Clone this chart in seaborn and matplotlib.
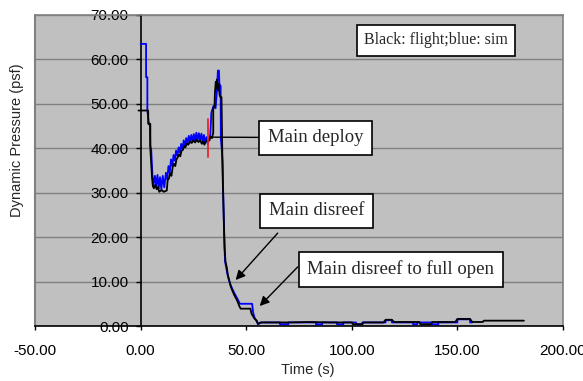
import matplotlib
matplotlib.use("Agg")
import matplotlib.pyplot as plt
import pandas as pd
import seaborn as sns
from matplotlib.ticker import FormatStrFormatter

# Flight-measured dynamic pressure (black trace)
flight_time = [-1.0, 3.6, 3.6, 4.6, 4.6, 5.4, 5.8, 6.3, 7.0, 7.6, 8.2, 8.8, 10.0, 11.0,
               12.4, 12.8, 13.4, 14.0, 14.6, 15.2, 15.8, 16.4, 17.0, 17.6, 18.2, 18.8,
               19.4, 20.0, 20.6, 21.2, 21.8, 22.6, 23.4, 24.2, 25.0, 25.8, 26.6, 27.4,
               28.2, 29.0, 29.6, 30.2, 30.8, 31.4, 32.0, 32.6, 33.2, 33.8, 34.4, 34.4,
               35.0, 35.2, 35.6, 35.9, 36.2, 36.6, 37.0, 37.4, 37.8, 38.3, 38.5, 38.7,
               38.9, 39.2, 39.5, 39.8, 40.2, 40.8, 41.3, 41.9, 42.6, 43.4, 44.3, 45.2,
               46.0, 46.8, 47.4, 52.0, 52.5, 53.7, 55.0, 55.6, 57.0, 70.0, 80.0, 90.0,
               100.0, 100.5, 105.0, 105.5, 115.0, 116.0, 119.0, 120.0, 132.0, 132.5,
               137.5, 138.0, 149.0, 150.0, 156.0, 157.0, 162.0, 162.5, 181.5]
flight_q = [48.5, 48.5, 45.5, 45.5, 40.0, 33.5, 31.5, 31.0, 31.8, 30.8, 31.3, 30.2, 30.6, 30.2,
            30.5, 32.8, 33.2, 34.4, 33.8, 35.8, 36.5, 36.0, 37.5, 38.0, 38.6, 38.2,
            39.5, 39.6, 40.5, 40.2, 41.0, 40.8, 41.5, 41.2, 41.8, 41.3, 41.9, 41.4,
            41.8, 41.0, 41.6, 40.8, 41.5, 41.6, 42.2, 41.8, 42.6, 42.3, 43.5, 49.0,
            49.5, 52.5, 55.0, 53.5, 55.5, 53.0, 54.5, 52.0, 51.5, 51.5, 45.0, 38.0,
            33.0, 27.5, 22.0, 17.5, 14.5, 13.2, 11.5, 10.4, 9.0, 8.0, 7.0, 6.2,
            5.4, 4.4, 3.9, 3.9, 2.8, 1.8, 1.2, 0.5, 0.8, 0.8, 0.9, 0.8,
            0.8, 0.4, 0.4, 0.8, 0.8, 1.4, 1.4, 0.9, 0.9, 0.4,
            0.4, 0.9, 0.9, 1.6, 1.6, 0.9, 0.9, 1.2, 1.2]

# Simulated dynamic pressure (blue trace)
sim_time = [0.0, 2.6, 2.6, 3.2, 3.2, 3.8, 4.4, 4.6, 5.0, 5.6, 6.0, 6.8, 7.4, 8.0, 8.6,
            9.2, 9.8, 10.5, 11.2, 12.0, 12.6, 13.2, 13.8, 14.4, 15.0, 15.6, 16.2,
            16.8, 17.4, 18.0, 18.6, 19.2, 19.8, 20.4, 21.0, 21.6, 22.2, 22.8, 23.4,
            24.0, 24.6, 25.2, 25.8, 26.4, 27.0, 27.6, 28.2, 28.8, 29.4, 30.0, 30.6,
            31.2, 31.8, 32.4, 33.0, 33.5, 34.5, 35.5, 36.0, 36.6, 37.1, 37.3, 37.9,
            38.0, 38.4, 38.8, 39.1, 39.4, 39.7, 40.0, 40.6, 41.2, 41.9, 42.8, 43.6,
            44.5, 45.3, 46.2, 47.0, 52.8, 53.3, 54.0, 55.0, 55.6, 57.0, 66.0, 66.0,
            70.0, 70.0, 83.0, 83.0, 86.0, 86.0, 93.0, 93.0, 96.0, 96.0, 102.0, 102.0,
            105.0, 105.0, 116.0, 116.0, 119.0, 119.0, 129.0, 129.0, 131.0, 131.0,
            138.0, 138.0, 141.0, 141.0, 150.0, 150.0, 156.0, 156.0, 157.0]
sim_q = [63.5, 63.5, 56.0, 56.0, 48.5, 46.0, 45.0, 40.5, 39.8, 34.0, 31.5, 33.8, 31.5, 34.0, 31.0,
         33.5, 30.8, 33.8, 31.2, 34.5, 33.0, 36.0, 34.5, 37.5, 36.0, 38.5, 37.2,
         39.5, 38.3, 40.2, 39.0, 41.0, 39.8, 41.8, 40.5, 42.3, 41.0, 42.8, 41.3,
         43.0, 41.5, 43.2, 41.7, 43.5, 41.8, 43.4, 41.8, 43.3, 41.5, 43.0, 41.2,
         42.5, 41.0, 42.0, 43.0, 48.0, 49.5, 49.0, 52.0, 57.5, 57.5, 54.5, 54.0,
         42.0, 40.0, 37.0, 30.0, 24.0, 18.0, 14.5, 13.0, 11.5, 10.2, 9.0, 8.2,
         7.3, 6.6, 5.8, 5.0, 5.0, 3.0, 1.8, 1.0, 0.4, 0.8, 0.8, 0.4,
         0.4, 0.8, 0.8, 0.4, 0.4, 0.8, 0.8, 0.4, 0.4, 0.8, 0.8, 0.4,
         0.4, 0.8, 0.8, 1.3, 1.3, 0.8, 0.8, 0.4, 0.4, 0.8,
         0.8, 0.4, 0.4, 0.8, 0.8, 1.5, 1.5, 0.8, 0.8]

# Main chute deploy marker
deploy_time = 32.0
deploy_marker_q = [38.1, 46.6]

x_ticks = [-50, 0, 50, 100, 150, 200]
y_ticks = [0, 10, 20, 30, 40, 50, 60, 70]

sns.set_theme(style="ticks")
plt.rcParams["font.family"] = ["Liberation Sans", "DejaVu Sans"]
serif = ["Liberation Serif", "DejaVu Serif"]

fig = plt.figure(figsize=(5.83, 3.81), dpi=100)
fig.patch.set_facecolor("white")
ax = fig.add_axes([35 / 583, 1 - 326 / 381, 528 / 583, 311 / 381])
ax.set_facecolor("#C0C0C0")

flight = pd.DataFrame({"t": flight_time, "q": flight_q})
sim = pd.DataFrame({"t": sim_time, "q": sim_q})

sns.lineplot(data=sim, x="t", y="q", estimator=None, sort=False,
             color="#0000FF", lw=1.3, ax=ax, zorder=3)
sns.lineplot(data=flight, x="t", y="q", estimator=None, sort=False,
             color="black", lw=1.3, ax=ax, zorder=4)
ax.plot([deploy_time, deploy_time], deploy_marker_q, color="#E8262A", lw=1.3, zorder=5)

ax.set_xlim(x_ticks[0], x_ticks[-1])
ax.set_ylim(y_ticks[0], y_ticks[-1])
ax.set_xticks(x_ticks)
ax.set_yticks(y_ticks)
ax.xaxis.set_major_formatter(FormatStrFormatter("%.2f"))
ax.yaxis.set_major_formatter(FormatStrFormatter("%.2f"))

ax.set_axisbelow(True)
ax.yaxis.grid(True, color="#808080", lw=1.0)
ax.xaxis.grid(False)

# Value axis crosses at t = 0; plot frame drawn in grey
ax.spines["left"].set_position(("data", 0))
ax.spines["left"].set_color("black")
ax.spines["left"].set_linewidth(1.2)
ax.spines["bottom"].set_color("black")
ax.spines["bottom"].set_linewidth(1.2)
for side in ("top", "right"):
    ax.spines[side].set_visible(True)
    ax.spines[side].set_color("#808080")
    ax.spines[side].set_linewidth(1.2)
ax.axvline(x_ticks[0], color="#808080", lw=1.5, clip_on=False, zorder=1)

ax.tick_params(axis="y", direction="out", length=3.6, width=1, pad=5,
               labelsize=11, colors="black")
ax.tick_params(axis="x", direction="out", length=3, width=1, pad=10,
               labelsize=11, colors="black")

ax.set_xlabel("Time (s)", fontsize=10.5, va="center")
ax.xaxis.set_label_coords(0.516, -0.1415)
ax.set_ylabel("Dynamic Pressure (psf)", fontsize=10.5, va="center")
ax.yaxis.set_label_coords(-0.034, 0.598)

box = dict(boxstyle="square,pad=0.45", fc="white", ec="black", lw=1.2)

ax.text(139.8, 64.3, "Black: flight;blue: sim", family=serif, fontsize=11.5,
        ha="center", va="center", bbox=box, zorder=6)

ax.annotate("Main deploy", xy=(34.5, 42.5), xytext=(82.9, 42.4),
            family=serif, fontsize=13.5, ha="center", va="center", bbox=box,
            arrowprops=dict(arrowstyle="-", color="black", lw=1.0,
                            shrinkA=0, shrinkB=0), zorder=6)

ax.text(83.2, 25.9, "Main disreef", family=serif, fontsize=13.5,
        ha="center", va="center", bbox=box, zorder=6)
ax.annotate("", xy=(45.0, 10.35), xytext=(64.9, 20.9),
            arrowprops=dict(arrowstyle="-|>", color="black", lw=1.0,
                            mutation_scale=14, shrinkA=0, shrinkB=0), zorder=6)

ax.text(123.2, 12.8, "Main disreef to full open", family=serif, fontsize=13.5,
        ha="center", va="center", bbox=box, zorder=6)
ax.annotate("", xy=(56.4, 4.5), xytext=(74.4, 13.3),
            arrowprops=dict(arrowstyle="-|>", color="black", lw=1.0,
                            mutation_scale=14, shrinkA=0, shrinkB=0), zorder=6)

fig.savefig("out.png", dpi=100)
